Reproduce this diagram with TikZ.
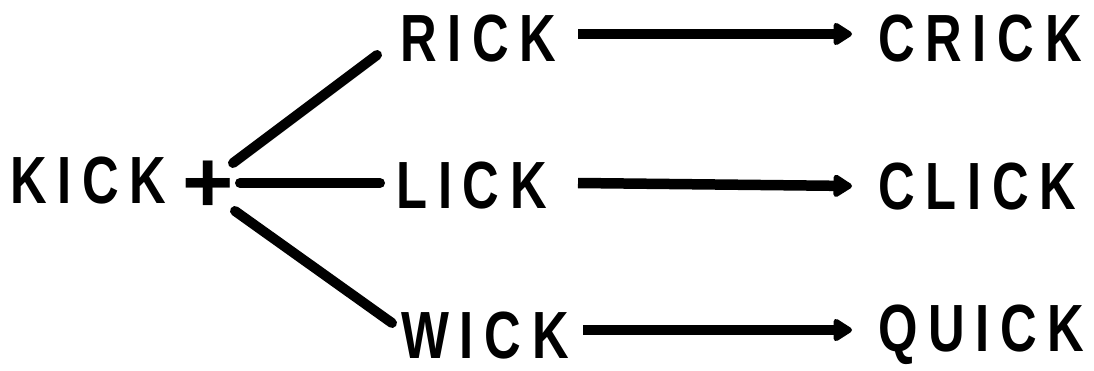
\documentclass[tikz,border=0pt]{standalone}
\usepackage{fontspec}
\setmainfont{Liberation Sans}[BoldFont={Liberation Sans Bold}]
\newfontfamily\wordfont{Liberation Sans Bold}[FakeStretch=0.76,LetterSpace=16]
\usetikzlibrary{arrows.meta,calc}

\begin{document}
\begin{tikzpicture}[x=0.02cm,y=-0.02cm,
    >={Triangle[length=0.42cm,width=0.5cm,round]},
    word/.style={inner sep=0pt,anchor=base west,
      font=\wordfont\fontsize{38pt}{42pt}\selectfont},
    stem/.style={line width=0.2cm,line cap=round}]
  \useasboundingbox (0,0) rectangle (1094,371);
  % words
  \node[word] (kick) at (10,203) {KICK};
  \node[inner sep=0pt,font=\bfseries\fontsize{50pt}{54pt}\selectfont] (plus) at (208,187) {+};
  \node[word] (rick) at (400,62) {RICK};
  \node[word] (lick) at (396,208) {LICK};
  \node[word] (wick) at (401,358) {WICK};
  \node[word] (crick) at (878,62) {CRICK};
  \node[word] (click) at (878,210) {CLICK};
  \node[word] (quick) at (878,351) {QUICK};
  % branches
  \draw[stem] ($(plus.center)+(25,-24)$) -- ($(rick.base west)+(-23,-7)$);
  \draw[stem] ($(plus.center)+(32,-4)$) -- ($(plus.center -| lick.base west)+(-16,-4)$);
  \draw[stem] ($(plus.center)+(27,24)$) -- ($(wick.base west)+(-9,-35)$);
  % arrows
  \draw[stem,line width=0.21cm,line cap=butt,->] ($(rick.base west)+(178,-28)$) -- ($(crick.base west)+(-26,-28)$);
  \draw[stem,line width=0.21cm,line cap=butt,->] ($(lick.base west)+(182,-25)$) -- ($(click.base west)+(-26,-24)$);
  \draw[stem,line width=0.21cm,line cap=butt,->] ($(wick.base west)+(182,-28)$) -- ($(quick.base west)+(-26,-21)$);
\end{tikzpicture}
\end{document}
